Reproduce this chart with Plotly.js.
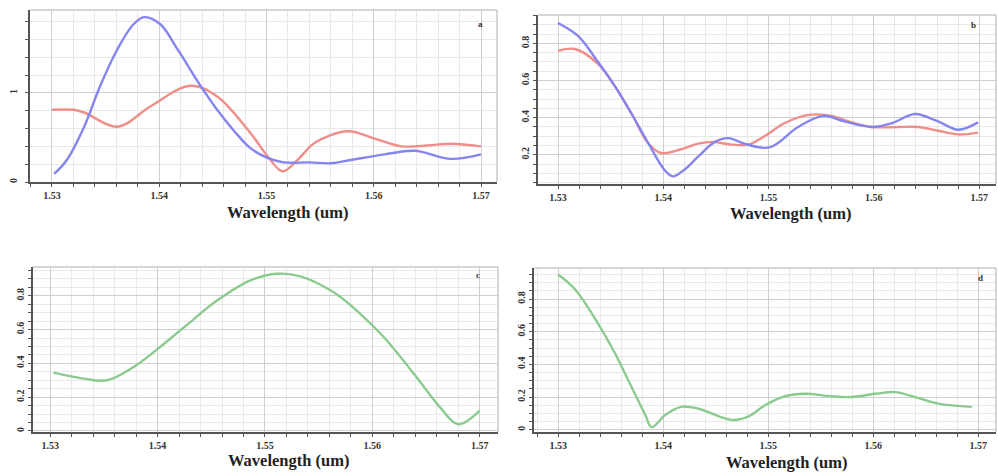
<!DOCTYPE html>
<html><head><meta charset="utf-8">
<script src="https://cdn.plot.ly/plotly-3.0.1.min.js"></script>
<style>html,body{margin:0;padding:0;background:#fff}#chart{width:998px;height:472px}</style>
</head><body><div id="chart"></div>
<script>
// Panel a
const aBlueX = [1.5302,1.5314,1.5330,1.5345,1.5361,1.5376,1.5386,1.5401,1.5417,1.5439,1.5454,1.5470,1.5485,1.5501,1.5516,1.5540,1.5560,1.5580,1.5610,1.5638,1.5672,1.5700];
const aBlueY = [0.09,0.25,0.62,1.08,1.49,1.77,1.85,1.77,1.49,1.07,0.81,0.57,0.38,0.27,0.22,0.22,0.21,0.25,0.31,0.35,0.26,0.31];
const aRedX = [1.5300,1.5320,1.5330,1.5361,1.5392,1.5429,1.5454,1.5485,1.5501,1.5515,1.5530,1.5545,1.5576,1.5600,1.5626,1.5650,1.5672,1.5700];
const aRedY = [0.81,0.81,0.78,0.62,0.85,1.08,0.96,0.55,0.29,0.12,0.26,0.44,0.57,0.49,0.40,0.41,0.43,0.40];
// Panel b
const bBlueX = [1.5300,1.5319,1.5338,1.5354,1.5370,1.5386,1.5401,1.5409,1.5420,1.5433,1.5449,1.5462,1.5477,1.5501,1.5528,1.5552,1.5572,1.5598,1.5617,1.5639,1.5661,1.5680,1.5699];
const bBlueY = [0.91,0.84,0.70,0.57,0.42,0.26,0.12,0.084,0.12,0.19,0.27,0.29,0.26,0.24,0.35,0.41,0.38,0.35,0.37,0.42,0.38,0.335,0.375];
const bRedX = [1.5300,1.5316,1.5338,1.5354,1.5370,1.5386,1.5398,1.5417,1.5433,1.5446,1.5465,1.5481,1.5496,1.5515,1.5538,1.5560,1.5576,1.5598,1.5623,1.5642,1.5661,1.5680,1.5699];
const bRedY = [0.76,0.77,0.69,0.57,0.42,0.26,0.21,0.23,0.26,0.27,0.255,0.255,0.30,0.37,0.415,0.41,0.38,0.35,0.35,0.35,0.33,0.31,0.32];
// Panel c
const cX = [1.5303,1.5331,1.5353,1.5378,1.5399,1.5424,1.5455,1.5486,1.5511,1.5533,1.5564,1.5591,1.5610,1.5641,1.5663,1.5680,1.5700];
const cY = [0.345,0.31,0.30,0.38,0.48,0.61,0.77,0.89,0.93,0.915,0.82,0.68,0.56,0.32,0.14,0.04,0.12];
// Panel d
const dX = [1.5300,1.5316,1.5338,1.5354,1.5370,1.5383,1.5389,1.5402,1.5417,1.5433,1.5465,1.5481,1.5497,1.5516,1.5535,1.5560,1.5579,1.5602,1.5621,1.5640,1.5662,1.5694];
const dY = [0.95,0.86,0.65,0.47,0.26,0.09,0.016,0.09,0.14,0.13,0.06,0.08,0.15,0.205,0.22,0.205,0.20,0.22,0.23,0.20,0.16,0.14];

const xTicks = [1.53,1.54,1.55,1.56,1.57];
const xTickText = ['1.53','1.54','1.55','1.56','1.57'];
const panelLetters = ['a','b','c','d'];
const xTitle = 'Wavelength (um)';

const BLUE = '#8585f0', RED = '#f08e8a', GREEN = '#8ccb90';
function tr(x,y,c,xa,ya){return {x:x,y:y,type:'scatter',mode:'lines',line:{color:c,width:2.4,shape:'spline',smoothing:1},xaxis:xa,yaxis:ya,showlegend:false,hoverinfo:'skip'};}
const data = [
  tr(aRedX,aRedY,RED,'x','y'), tr(aBlueX,aBlueY,BLUE,'x','y'),
  tr(bRedX,bRedY,RED,'x2','y2'), tr(bBlueX,bBlueY,BLUE,'x2','y2'),
  tr(cX,cY,GREEN,'x3','y3'), tr(dX,dY,GREEN,'x4','y4')
];
const tf = {family:'Liberation Serif, serif',size:10,color:'#333',weight:'bold'};
function xa(dom,rng,anchor){return {domain:dom,range:rng,anchor:anchor,tickvals:xTicks,ticktext:xTickText,showline:true,linecolor:'#555',linewidth:2,ticks:'outside',ticklen:3,tickcolor:'#555',showgrid:true,gridcolor:'#cfcfcf',zeroline:false,tickfont:tf,ticklabelstandoff:0,
  minor:{dtick:0.002,tick0:1.53,showgrid:true,gridcolor:'#e8e8e8',ticks:'outside',ticklen:3,tickcolor:'#555'}};}
function ya(dom,rng,anchor,dt,mdt,so){return {domain:dom,range:rng,anchor:anchor,dtick:dt,tick0:0,showline:true,linecolor:'#555',linewidth:2,ticks:'outside',ticklen:3,tickcolor:'#555',showgrid:true,gridcolor:'#cfcfcf',zeroline:false,tickfont:tf,tickangle:-90,ticklabelstandoff:so,
  minor:{dtick:mdt,tick0:0,showgrid:true,gridcolor:'#e8e8e8',ticks:'outside',ticklen:3,tickcolor:'#555'}};}
const doms = {
  a:{x:[30/998,497/998],y:[1-182/472,1-10/472]},
  b:{x:[538/998,996/998],y:[1-184/472,1-15/472]},
  c:{x:[33/998,498/998],y:[1-432/472,1-267/472]},
  d:{x:[534/998,996/998],y:[1-432/472,1-268/472]}
};
const layout = {
  width:998,height:472,margin:{l:0,r:0,t:0,b:0},paper_bgcolor:'#fff',plot_bgcolor:'#fff',showlegend:false,
  xaxis:xa(doms.a.x,[1.52795,1.57149],'y'), yaxis:ya(doms.a.y,[0,1.93],'x',1,0.2,4),
  xaxis2:xa(doms.b.x,[1.5281,1.5716],'y2'), yaxis2:ya(doms.b.y,[0.043,0.953],'x2',0.2,0.05,0),
  xaxis3:xa(doms.c.x,[1.5284,1.5717],'y3'), yaxis3:ya(doms.c.y,[-0.006,0.97],'x3',0.2,0.05,0),
  xaxis4:xa(doms.d.x,[1.5277,1.5717],'y4'), yaxis4:ya(doms.d.y,[-0.014,0.99],'x4',0.2,0.05,0),
  shapes:[], annotations:[]
};
const refs=[['x','y'],['x2','y2'],['x3','y3'],['x4','y4']];
refs.forEach(r=>{
  layout.shapes.push({type:'line',xref:r[0]+' domain',yref:r[1]+' domain',x0:0,x1:1,y0:1,y1:1,line:{color:'#c8c8c8',width:1.5}});
  layout.shapes.push({type:'line',xref:r[0]+' domain',yref:r[1]+' domain',x0:1,x1:1,y0:0,y1:1,line:{color:'#c8c8c8',width:1.5}});
});
const titlePos = [[287,212],[790,213],[288,460],[786,462]];
titlePos.forEach(p=>layout.annotations.push({text:xTitle,xref:'paper',yref:'paper',x:p[0]/998,y:1-p[1]/472,xanchor:'center',yanchor:'middle',showarrow:false,font:{family:'Liberation Serif, serif',size:16.5,color:'#222',weight:'bold'}}));
const letterPos = [[480,24],[973,25],[478,275],[980,278]];
letterPos.forEach((p,i)=>layout.annotations.push({text:panelLetters[i],xref:'paper',yref:'paper',x:p[0]/998,y:1-p[1]/472,xanchor:'center',yanchor:'middle',showarrow:false,font:{family:'Liberation Serif, serif',size:9,color:'#333',weight:'bold'}}));
Plotly.newPlot('chart',data,layout,{staticPlot:true,displayModeBar:false});
</script></body></html>
